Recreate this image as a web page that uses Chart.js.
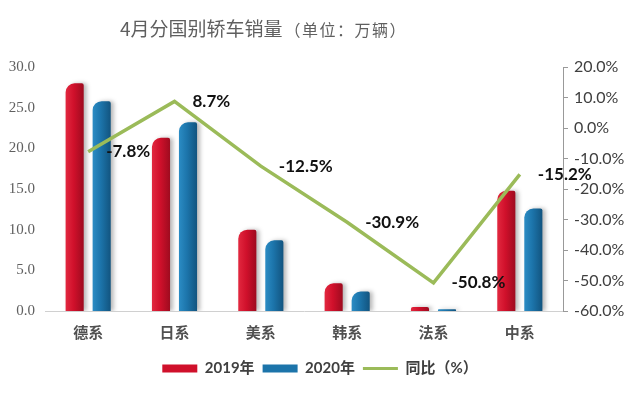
<!DOCTYPE html>
<html>
<head>
<meta charset="utf-8">
<script src="https://cdn.jsdelivr.net/npm/chart.js@4.4.1/dist/chart.umd.min.js"></script>
<style>
  html, body { margin: 0; padding: 0; background: #fff; }
  #wrap { position: relative; width: 640px; height: 394px; }
  #title {
    position: absolute; left: 120px; top: 14px;
    font-family: "Noto Sans CJK SC", sans-serif; color: #5f5f5f;
    font-size: 19px; line-height: 28px; white-space: nowrap;
  }
  #title small { font-size: 16px; letter-spacing: 1.5px; margin-left: 2px; }
</style>
</head>
<body>
<div id="wrap">
  <div id="title">4月分国别轿车销量<small>（单位：万辆）</small></div>
  <canvas id="chart" width="640" height="394"></canvas>
</div>
<script>
const categories = ['德系', '日系', '美系', '韩系', '法系', '中系'];
const sales2019 = [28.0, 21.3, 10.0, 3.4, 0.5, 14.8];
const sales2020 = [25.8, 23.2, 8.7, 2.4, 0.2, 12.6];
const yoy = [-7.8, 8.7, -12.5, -30.9, -50.8, -15.2];

// horizontal shading like a cylinder, needs the bar position
function shade(light, mid, dark){
    return (c)=>{
        let el = c.element;
        if(!el || !isFinite(el.x) || !el.width) return mid;
        let g = c.chart.ctx.createLinearGradient(el.x - el.width/2, 0, el.x + el.width/2, 0);
        g.addColorStop(0, light);
        g.addColorStop(0.45, mid);
        g.addColorStop(1, dark);
        return g;
    }
}

const barShadow = {
    id: 'barShadow',
    beforeDatasetDraw(chart, args){
        if(args.meta.type != 'bar') return;
        let ctx = chart.ctx;
        ctx.save();
        ctx.shadowColor = 'rgba(0,0,0,0.28)';
        ctx.shadowOffsetX = 3;
        ctx.shadowOffsetY = 0;
        ctx.shadowBlur = 4;
    },
    afterDatasetDraw(chart, args){
        if(args.meta.type != 'bar') return;
        chart.ctx.restore();
    }
};

const pctLabels = {
    id: 'pctLabels',
    afterDatasetsDraw(chart){
        let ctx = chart.ctx;
        let meta = chart.getDatasetMeta(2);
        ctx.save();
        ctx.font = 'bold 17px Lato, "Noto Sans", sans-serif';
        ctx.fillStyle = '#111';
        ctx.textAlign = 'left';
        ctx.textBaseline = 'middle';
        meta.data.forEach((p, i)=>{
            ctx.fillText(yoy[i].toFixed(1) + '%', p.x + 18, p.y);
        });
        ctx.restore();
    }
};

const corner = {topLeft: 14, topRight: 2, bottomLeft: 0, bottomRight: 0};

let chart = new Chart(document.getElementById('chart'), {
    type: 'bar',
    data: {
        labels: categories,
        datasets: [{
            label: '2019年',
            data: sales2019,
            backgroundColor: shade('#e2283f', '#d0102b', '#9e0b1f'),
            borderRadius: corner,
            categoryPercentage: 0.626,
            barPercentage: 0.67,
            yAxisID: 'y',
            order: 1
        },{
            label: '2020年',
            data: sales2020,
            backgroundColor: shade('#2b8cc4', '#1c74aa', '#12547f'),
            borderRadius: corner,
            categoryPercentage: 0.626,
            barPercentage: 0.67,
            yAxisID: 'y',
            order: 1
        },{
            type: 'line',
            label: '同比（%）',
            data: yoy,
            borderColor: '#9bbb59',
            backgroundColor: '#9bbb59',
            borderWidth: 3.5,
            pointRadius: 0,
            tension: 0,
            yAxisID: 'y1',
            order: 0
        }]
    },
    options: {
        responsive: false,
        animation: false,
        layout: { padding: { top: 67, left: 0, right: 0, bottom: 8 } },
        plugins: {
            tooltip: { enabled: false },
            legend: {
                position: 'bottom',
                labels: {
                    usePointStyle: true,
                    pointStyleWidth: 35,
                    boxHeight: 8,
                    padding: 8,
                    color: '#404040',
                    font: { family: 'Lato, "Noto Sans CJK SC", sans-serif', size: 15, weight: 'bold' },
                    sort: (a, b)=> a.datasetIndex - b.datasetIndex,
                    generateLabels(chart){
                        let items = Chart.defaults.plugins.legend.labels.generateLabels(chart);
                        items.forEach((it)=>{
                            if(it.datasetIndex == 2){
                                it.pointStyle = 'line';
                                it.lineWidth = 3;
                                it.strokeStyle = '#9bbb59';
                            }else{
                                it.pointStyle = 'rect';
                                it.lineWidth = 0;
                                it.fillStyle = it.datasetIndex == 0 ? '#d0102b' : '#1c74aa';
                            }
                        });
                        return items;
                    }
                }
            }
        },
        scales: {
            x: {
                grid: { display: false, drawTicks: false },
                border: { color: '#d0d0d0', width: 1 },
                ticks: {
                    padding: 12,
                    color: '#505050',
                    font: { family: '"Noto Sans CJK SC", sans-serif', size: 15, weight: 'bold' }
                },
                afterFit: (s)=>{ s.height = 42; }
            },
            y: {
                position: 'left',
                min: 0, max: 30,
                grid: { display: false, drawTicks: false },
                border: { display: false },
                ticks: {
                    stepSize: 5,
                    padding: 10,
                    color: '#606060',
                    font: { family: '"Liberation Serif", serif', size: 15 },
                    callback: (v)=> v.toFixed(1)
                },
                afterFit: (s)=>{ s.width = 45; }
            },
            y1: {
                position: 'right',
                min: -60, max: 20,
                grid: { display: true, drawOnChartArea: false, drawTicks: true, tickLength: 5, color: '#999' },
                border: { color: '#999', width: 1 },
                ticks: {
                    stepSize: 10,
                    padding: 6,
                    color: '#404040',
                    font: { family: 'Lato, sans-serif', size: 16 },
                    callback: (v)=> v.toFixed(1) + '%'
                },
                afterFit: (s)=>{ s.width = 77; }
            }
        }
    },
    plugins: [barShadow, pctLabels]
});

// second pass so the gradients know where the bars are
chart.update('none');
</script>
</body>
</html>
